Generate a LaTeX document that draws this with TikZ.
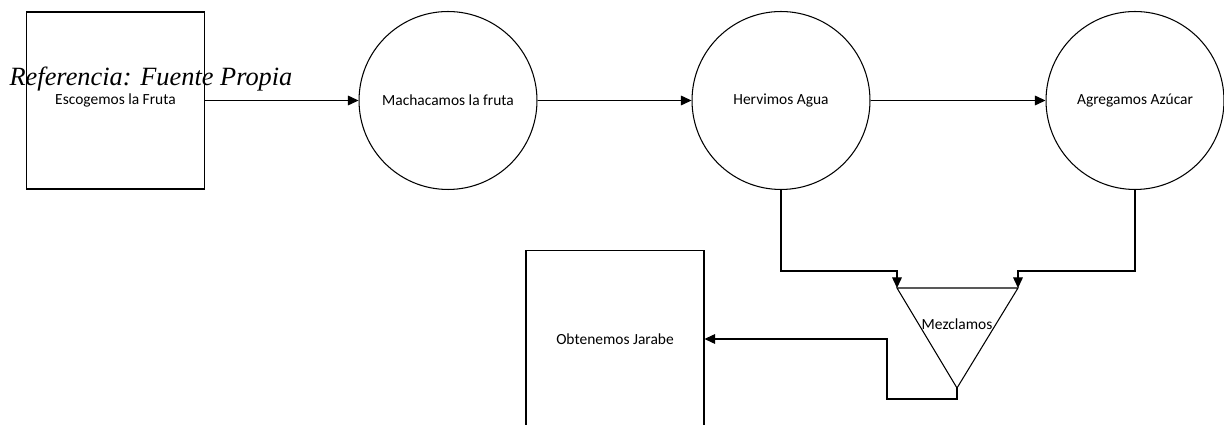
\documentclass[tikz,border=0pt]{standalone}
\usepackage{fontspec}
\setmainfont{Carlito}
\newfontfamily\refserif{Liberation Serif}
\usetikzlibrary{arrows.meta}

\begin{document}
\begin{tikzpicture}[x=0.02cm,y=-0.02cm,line width=0.6pt,
  caja/.style={draw,minimum width=3.56cm,minimum height=3.54cm,inner sep=0pt,font=\fontsize{8.8}{10}\selectfont},
  proceso/.style={draw,circle,minimum size=3.56cm,inner sep=0pt,font=\fontsize{8.8}{10}\selectfont},
  flecha/.style={-{Triangle[length=6pt,width=5.5pt]}}]
\useasboundingbox (0,0) rectangle (1224,425);
\node[caja] (fruta) at (115.5,100.5) {Escogemos la Fruta};
\node[proceso] (machacar) at (448,100.5) {Machacamos la fruta};
\node[proceso] (hervir) at (781,100.5) {Hervimos Agua};
\node[proceso] (azucar) at (1135,100.5) {Agregamos Azúcar};
\node[caja] (jarabe) at (615,339) {Obtenemos Jarabe};
\coordinate (tri-izq) at (897,288);
\coordinate (tri-der) at (1018,288);
\coordinate (tri-pie) at (957,388);
\draw (tri-izq) -- (tri-der) -- (tri-pie) -- cycle;
\node[font=\fontsize{8.8}{10}\selectfont] (mezcla) at (957,324) {Mezclamos};
\node[font=\fontsize{15}{18}\refserif\itshape] (referencia) at (151,79) {Referencia: Fuente Propia};
\draw[flecha] (fruta.east) -- (machacar.west);
\draw[flecha] (machacar.east) -- (hervir.west);
\draw[flecha] (hervir.east) -- (azucar.west);
\draw[flecha] (hervir.south) -- (hervir.south |- 0,271) -| (tri-izq);
\draw[flecha] (azucar.south) -- (azucar.south |- 0,271) -| (tri-der);
\draw[flecha] (tri-pie) -- (tri-pie |- 0,399) -| (887,339) -- (jarabe.east);
\end{tikzpicture}
\end{document}
